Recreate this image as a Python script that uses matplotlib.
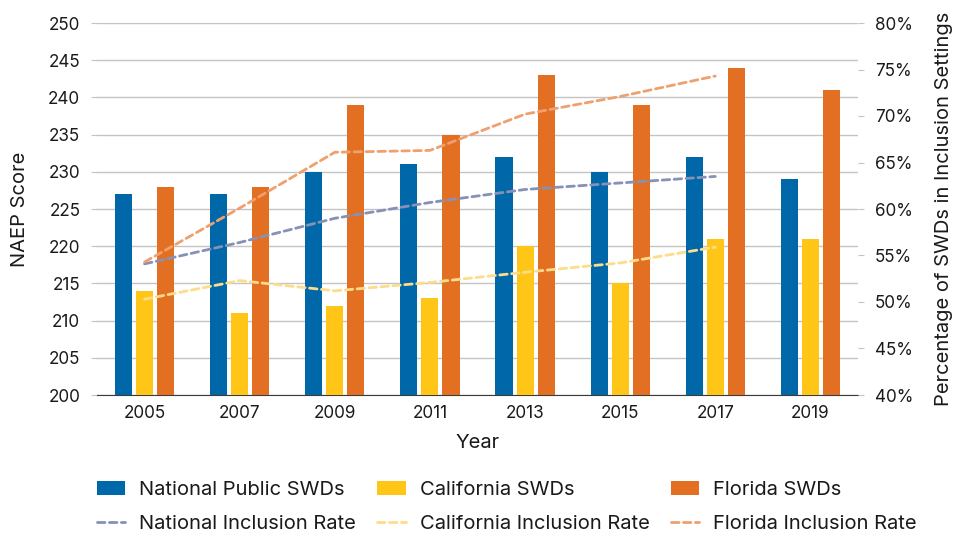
import numpy as np
import matplotlib.pyplot as plt
from matplotlib.ticker import FuncFormatter

plt.rcParams['font.family'] = ['Inter', 'DejaVu Sans']

years = ['2005', '2007', '2009', '2011', '2013', '2015', '2017', '2019']
nat_score = [227, 227, 230, 231, 232, 230, 232, 229]
cal_score = [214, 211, 212, 213, 220, 215, 221, 221]
fl_score = [228, 228, 239, 235, 243, 239, 244, 241]

# inclusion rates (percent), no 2019 value
rate_years = years[:7]
nat_rate = [54.1, 56.4, 59.0, 60.7, 62.1, 62.8, 63.5]
cal_rate = [50.3, 52.3, 51.2, 52.1, 53.2, 54.2, 55.9]
fl_rate = [54.3, 60.1, 66.1, 66.3, 70.2, 72.1, 74.3]

c_nat = '#0068A8'
c_cal = '#FFC517'
c_fl = '#E36F22'
c_nat_l = '#8691B6'
c_cal_l = '#FDDC8C'
c_fl_l = '#F0A06E'
grid_c = '#C4C4C4'
txt = '#1A1A1A'

fig = plt.figure(figsize=(9.54, 5.33), dpi=100)
ax = fig.add_axes([97 / 954, 1 - 395 / 533, (858 - 97) / 954, (395 - 23) / 533])
ax2 = ax.twinx()

x = np.arange(len(years))
w = 0.18
off = 0.222
b1 = ax.bar(x - off, nat_score, w, color=c_nat, zorder=3, label='National Public SWDs')
b2 = ax.bar(x, cal_score, w, color=c_cal, zorder=3, label='California SWDs')
b3 = ax.bar(x + off, fl_score, w, color=c_fl, zorder=3, label='Florida SWDs')

ax.set_ylim(200, 250)
ax.set_yticks(np.arange(200, 251, 5))
ax.set_xlim(-0.5, len(years) - 0.5)
ax.set_xticks(x)
ax.set_xticklabels(years)
ax.grid(axis='y', color=grid_c, linewidth=1, zorder=0)
ax.set_axisbelow(True)

xr = np.arange(len(rate_years))
ls = dict(linewidth=2.0, linestyle=(0, (2.7, 1.6)), dash_capstyle='round', zorder=4)
l1, = ax2.plot(xr, nat_rate, color=c_nat_l, label='National Inclusion Rate', **ls)
l2, = ax2.plot(xr, cal_rate, color=c_cal_l, label='California Inclusion Rate', **ls)
l3, = ax2.plot(xr, fl_rate, color=c_fl_l, label='Florida Inclusion Rate', **ls)
ax2.set_ylim(40, 80)
ax2.set_yticks(np.arange(40, 81, 5))
ax2.yaxis.set_major_formatter(FuncFormatter(lambda v, p: f'{v:.0f}%'))

for a in (ax, ax2):
    for s in ('top', 'left', 'right'):
        a.spines[s].set_visible(False)
    a.spines['bottom'].set_color('#3A3A3A')
    a.tick_params(axis='y', length=4, color=grid_c, labelsize=12.3, labelcolor=txt, pad=8)
ax.tick_params(axis='x', length=0, labelsize=12.3, labelcolor=txt, pad=7)
ax2.spines['bottom'].set_visible(False)

ax.set_xlabel('Year', fontsize=14.5, color=txt, labelpad=9)
ax.set_ylabel('NAEP Score', fontsize=14.5, color=txt, labelpad=14)
ax2.set_ylabel('Percentage of SWDs in Inclusion Settings', fontsize=14.5, color=txt, labelpad=16)

handles = [b1, l1, b2, l2, b3, l3]
fig.legend(handles=handles, labels=[h.get_label() for h in handles], ncol=3,
           loc='lower left', bbox_to_anchor=(97 / 954, 0.0), frameon=False,
           borderpad=0, borderaxespad=0,
           fontsize=14.5, handlelength=1.4, handletextpad=0.7, columnspacing=1.05,
           labelspacing=0.8, labelcolor=txt)

fig.savefig('out.png', dpi=100)
